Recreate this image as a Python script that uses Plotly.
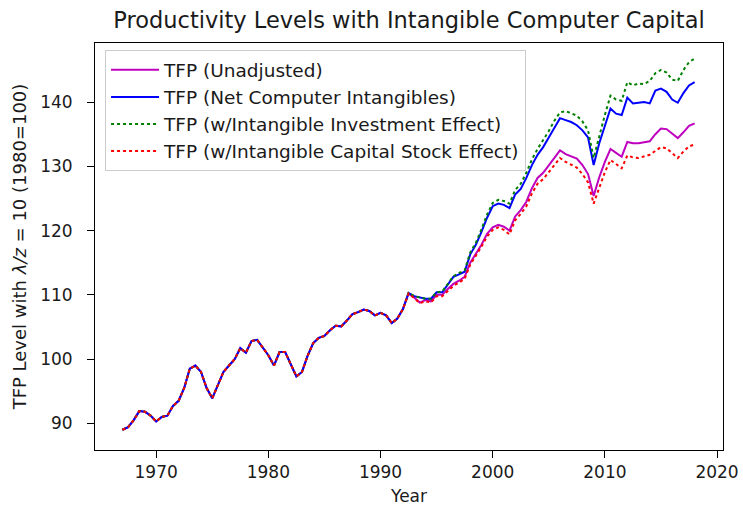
import plotly.graph_objects as go

# ---- data (half-year observations) ----
years = [1967.0 + 0.5 * i for i in range(103)]  # 1967.0 ... 2018.0

# shared history 1967.0 - 1992.0 (all four series coincide)
tfp_common = [
    89.0, 89.4, 90.5, 91.9, 91.8, 91.2, 90.3, 91.0, 91.2, 92.7,
    93.5, 95.5, 98.5, 99.0, 98.0, 95.5, 93.9, 96.0, 98.0, 99.0,
    100.0, 101.7, 101.0, 102.8, 103.0, 101.8, 100.6, 99.0, 101.1, 101.1,
    99.3, 97.3, 98.0, 100.5, 102.5, 103.3, 103.6, 104.5, 105.2, 105.1,
    106.0, 107.0, 107.3, 107.7, 107.5, 106.8, 107.2, 106.8, 105.6, 106.3,
    107.8,
]

# 1992.5 - 2018.0
unadj_late = [
    110.2, 109.6, 108.8, 109.2, 109.0, 110.0, 110.0, 110.9, 111.7, 112.2,
    112.8, 115.0, 116.3, 117.8, 119.5, 120.5, 120.9, 120.6, 120.0, 122.2,
    123.2, 124.5, 126.6, 128.2, 129.0, 130.2, 131.3, 132.5, 131.9, 131.6,
    131.2, 130.2, 128.8, 125.4, 128.3, 130.7, 132.7, 132.1, 131.5, 133.8,
    133.6, 133.6, 133.8, 133.9, 135.0, 135.9, 135.8, 135.1, 134.4, 135.3,
    136.3, 136.7,
]
net_late = [
    110.3, 109.8, 109.6, 109.4, 109.4, 110.4, 110.4, 111.6, 112.8, 113.2,
    113.6, 116.3, 117.8, 119.8, 122.0, 123.8, 124.2, 124.0, 123.5, 125.6,
    126.5, 128.2, 130.2, 131.8, 133.0, 134.5, 136.0, 137.5, 137.2, 136.9,
    136.4, 135.6, 134.5, 130.2, 133.6, 136.5, 139.0, 138.2, 138.0, 140.7,
    139.8, 139.9, 140.0, 139.8, 141.8, 142.1, 141.6, 140.4, 139.9, 141.4,
    142.6, 143.1,
]
invest_late = [
    110.3, 109.8, 109.6, 109.4, 109.4, 110.4, 110.5, 111.7, 112.9, 113.4,
    113.8, 116.6, 118.1, 120.2, 122.5, 124.3, 124.8, 124.6, 124.2, 126.3,
    127.3, 129.0, 131.1, 132.7, 134.0, 135.5, 137.1, 138.4, 138.6, 138.3,
    137.9, 137.0, 135.6, 131.3, 134.8, 138.0, 141.0, 140.4, 140.2, 143.1,
    142.6, 142.9, 142.8, 143.3, 144.5, 145.0, 144.6, 143.5, 143.3, 145.0,
    146.2, 146.8,
]
stock_late = [
    110.2, 109.5, 108.7, 109.0, 108.8, 109.8, 109.8, 110.6, 111.4, 111.9,
    112.5, 114.7, 116.0, 117.5, 119.1, 120.1, 120.5, 120.1, 119.4, 121.6,
    122.6, 123.8, 125.8, 127.3, 128.0, 129.1, 130.1, 131.3, 130.7, 130.3,
    129.8, 128.8, 127.5, 124.2, 126.8, 129.1, 131.0, 130.3, 129.7, 131.7,
    131.4, 131.3, 131.5, 131.8, 132.4, 133.0, 132.8, 132.1, 131.3, 132.3,
    133.1, 133.4,
]

tfp_unadjusted = tfp_common + unadj_late
tfp_net = tfp_common + net_late
tfp_investment = tfp_common + invest_late
tfp_stock = tfp_common + stock_late

series = [
    ("TFP (Unadjusted)", tfp_unadjusted, "#BF00BF", "solid"),
    ("TFP (Net Computer Intangibles)", tfp_net, "#0000FF", "solid"),
    ("TFP (w/Intangible Investment Effect)", tfp_investment, "#008000", "dot"),
    ("TFP (w/Intangible Capital Stock Effect)", tfp_stock, "#FF0000", "dot"),
]

FONT = "DejaVu Sans"
TXT = "#1a1a1a"

fig = go.Figure()
for name, vals, color, dash in series:
    fig.add_trace(go.Scatter(
        x=years, y=vals, mode="lines", name=name,
        line=dict(color=color, width=2, dash=dash),
    ))

axis_common = dict(
    showgrid=False, zeroline=False, showline=True, linecolor="black",
    linewidth=1, mirror=True, ticks="outside", ticklen=7, tickwidth=1,
    tickcolor="black", tickfont=dict(family=FONT, size=17, color=TXT),
    automargin=False,
)

fig.update_layout(
    width=743, height=510,
    margin=dict(l=95, r=20, t=43, b=60),
    paper_bgcolor="white", plot_bgcolor="white",
    font=dict(family=FONT, color=TXT),
    title=dict(
        text="Productivity Levels with Intangible Computer Capital",
        x=(95 + 723) / 2 / 743, xanchor="center", y=0.96, yanchor="middle",
        font=dict(family=FONT, size=22.5, color=TXT),
    ),
    xaxis=dict(
        **axis_common, range=[1964.55, 2020.53],
        tickvals=[1970, 1980, 1990, 2000, 2010, 2020],
        ticklabelstandoff=0,
        title=dict(text="Year", standoff=8,
                   font=dict(family=FONT, size=17, color=TXT)),
    ),
    yaxis=dict(
        **axis_common, range=[85.85, 149.2],
        tickvals=[90, 100, 110, 120, 130, 140],
        ticklabelstandoff=11,
        title=dict(text="TFP Level with <i>λ/z</i> = 10 (1980=100)", standoff=8,
                   font=dict(family=FONT, size=18, color=TXT)),
    ),
    legend=dict(
        x=0.016, y=0.982, xanchor="left", yanchor="top",
        bgcolor="rgba(255,255,255,0.8)", bordercolor="#cccccc", borderwidth=1,
        font=dict(family=FONT, size=18.5, color=TXT),
        itemwidth=48, tracegroupgap=0,
    ),
    showlegend=True,
)

fig.write_html("out.html", config={"displayModeBar": False},
               post_script="document.body.style.margin='0';")
